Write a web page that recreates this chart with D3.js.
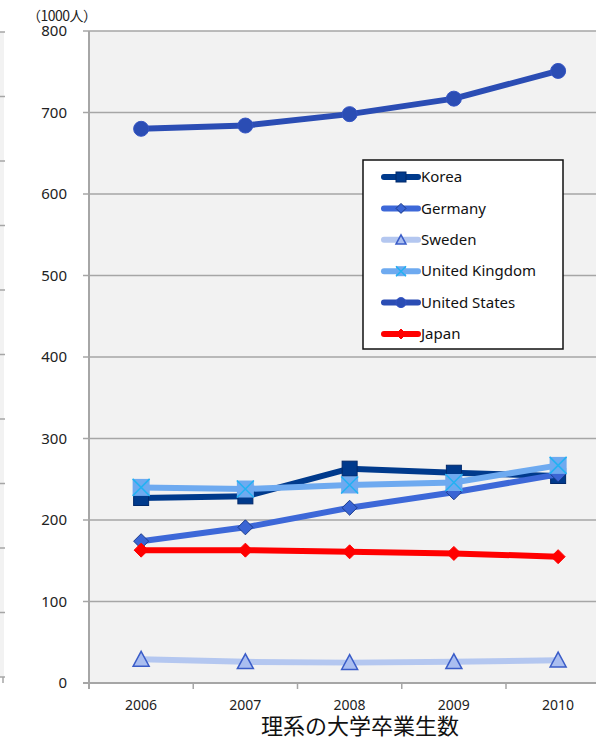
<!DOCTYPE html>
<html>
<head>
<meta charset="utf-8">
<script src="https://cdn.jsdelivr.net/npm/d3@7"></script>
<style>
  body { margin: 0; background: #fff; }
  svg { display: block; font-family: "Noto Sans", "Open Sans", sans-serif; }
</style>
</head>
<body>
<svg width="596" height="739"></svg>
<script>
var years = ["2006", "2007", "2008", "2009", "2010"];
var yTicks = [0, 100, 200, 300, 400, 500, 600, 700, 800];
var korea = [227, 229, 263, 258, 254];
var germany = [174, 191, 215, 234, 256];
var sweden = [29, 26, 25, 26, 28];
var uk = [240, 238, 243, 246, 267];
var us = [680, 684, 698, 717, 751];
var japan = [163, 163, 161, 159, 155];

var series = [
  { name: "Korea", values: korea, line: "#003a8c", fill: "#003a8c", stroke: "#00286a", shape: "square" },
  { name: "Germany", values: germany, line: "#3d68d8", fill: "#3a65d4", stroke: "#1c3c8c", shape: "diamond" },
  { name: "Sweden", values: sweden, line: "#b4c7f0", fill: "#aabef0", stroke: "#3a5cc8", shape: "triangle" },
  { name: "United Kingdom", values: uk, line: "#6eaaf0", fill: "#6eaaf0", stroke: "#22b2f2", shape: "xsquare" },
  { name: "United States", values: us, line: "#2b4db4", fill: "#2b4db4", stroke: "#3454c4", shape: "circle" },
  { name: "Japan", values: japan, line: "#ff0000", fill: "#ff0000", stroke: "#ff0000", shape: "diamond" }
];

var svg = d3.select("svg"),
  width = +svg.attr("width"),
  height = +svg.attr("height");

var plotLeft = 89, plotTop = 31, plotBottom = 683;

var x = d3.scaleBand().domain(years).range([plotLeft, plotLeft + 5 * 104.25]).paddingInner(0).paddingOuter(0);
var y = d3.scaleLinear().domain([0, 800]).range([plotBottom, plotTop]);

// leftover strip of a neighbouring chart at the very left edge
var yStrip = d3.scaleLinear().domain([0, 10]).range([677, 32]);
svg.append("rect").attr("x", 0).attr("y", 32).attr("width", 4).attr("height", 645).attr("fill", "#f2f2f2");
svg.append("g").selectAll("line").data(d3.range(11)).enter().append("line")
  .attr("x1", 0).attr("x2", 5)
  .attr("y1", function (d) { return yStrip(d); })
  .attr("y2", function (d) { return yStrip(d); })
  .attr("stroke", "#a6a6a6").attr("stroke-width", 1.5);
svg.append("line").attr("x1", 3).attr("x2", 3).attr("y1", 677).attr("y2", 683)
  .attr("stroke", "#a6a6a6").attr("stroke-width", 1.5);

// plot area
svg.append("rect")
  .attr("x", plotLeft).attr("y", plotTop)
  .attr("width", width - plotLeft).attr("height", plotBottom - plotTop)
  .attr("fill", "#f2f2f2");

svg.append("g").selectAll("line").data(yTicks.slice(1)).enter().append("line")
  .attr("x1", plotLeft - 6).attr("x2", width)
  .attr("y1", function (d) { return y(d); })
  .attr("y2", function (d) { return y(d); })
  .attr("stroke", "#a6a6a6").attr("stroke-width", 1.5);

svg.append("g").selectAll("text").data(yTicks).enter().append("text")
  .attr("x", 67).attr("y", function (d) { return y(d); })
  .attr("dy", "0.35em").attr("text-anchor", "end")
  .attr("font-size", 15).attr("fill", "#222")
  .text(function (d) { return d; });

// axes lines
svg.append("line").attr("x1", plotLeft).attr("x2", plotLeft).attr("y1", plotTop).attr("y2", plotBottom + 6)
  .attr("stroke", "#a6a6a6").attr("stroke-width", 2);
svg.append("line").attr("x1", plotLeft - 6).attr("x2", width).attr("y1", plotBottom).attr("y2", plotBottom)
  .attr("stroke", "#a6a6a6").attr("stroke-width", 2);
svg.append("g").selectAll("line").data(years.slice(1)).enter().append("line")
  .attr("x1", function (d) { return x(d); })
  .attr("x2", function (d) { return x(d); })
  .attr("y1", plotBottom).attr("y2", plotBottom + 6)
  .attr("stroke", "#a6a6a6").attr("stroke-width", 1.5);

svg.append("g").selectAll("text").data(years).enter().append("text")
  .attr("x", function (d) { return x(d) + x.bandwidth() / 2; })
  .attr("y", 710).attr("text-anchor", "middle")
  .attr("font-size", 14).attr("fill", "#222")
  .text(function (d) { return d; });

svg.append("text").attr("x", 360).attr("y", 734).attr("text-anchor", "middle")
  .attr("font-family", "'Noto Sans CJK JP', sans-serif").attr("font-size", 22).attr("fill", "#111")
  .text("理系の大学卒業生数");

svg.append("text").attr("x", 27).attr("y", 21)
  .attr("font-family", "'Noto Sans CJK JP', sans-serif").attr("font-size", 14).attr("fill", "#222")
  .attr("textLength", 70).attr("lengthAdjust", "spacing")
  .text("（1000人）");

function drawMarker(g, s, cx, cy, size) {
  var h = size / 2;
  if (s.shape === "square") {
    g.append("rect").attr("x", cx - h).attr("y", cy - h).attr("width", size).attr("height", size)
      .attr("fill", s.fill).attr("stroke", s.stroke).attr("stroke-width", 1);
  } else if (s.shape === "diamond") {
    g.append("path").attr("d", "M" + cx + "," + (cy - h) + "L" + (cx + h) + "," + cy + "L" + cx + "," + (cy + h) + "L" + (cx - h) + "," + cy + "Z")
      .attr("fill", s.fill).attr("stroke", s.stroke).attr("stroke-width", 1);
  } else if (s.shape === "triangle") {
    g.append("path").attr("d", "M" + cx + "," + (cy - h) + "L" + (cx + h) + "," + (cy + h * 0.85) + "L" + (cx - h) + "," + (cy + h * 0.85) + "Z")
      .attr("fill", s.fill).attr("stroke", s.stroke).attr("stroke-width", 1.5);
  } else if (s.shape === "xsquare") {
    g.append("rect").attr("x", cx - h).attr("y", cy - h).attr("width", size).attr("height", size)
      .attr("fill", s.fill);
    g.append("path").attr("d", "M" + (cx - h) + "," + (cy - h) + "L" + (cx + h) + "," + (cy + h) + "M" + (cx + h) + "," + (cy - h) + "L" + (cx - h) + "," + (cy + h))
      .attr("stroke", s.stroke).attr("stroke-width", 1.5).attr("fill", "none");
  } else if (s.shape === "circle") {
    g.append("circle").attr("cx", cx).attr("cy", cy).attr("r", h)
      .attr("fill", s.fill).attr("stroke", s.stroke).attr("stroke-width", 1);
  }
}

var line = d3.line()
  .x(function (d, i) { return x(years[i]) + x.bandwidth() / 2; })
  .y(function (d) { return y(d); });

var sizes = { square: 15, diamond: 15, triangle: 16, xsquare: 17, circle: 15 };

series.forEach(function (s) {
  var g = svg.append("g");
  g.append("path").datum(s.values).attr("d", line)
    .attr("fill", "none").attr("stroke", s.line).attr("stroke-width", 6)
    .attr("stroke-linejoin", "round");
  s.values.forEach(function (v, i) {
    drawMarker(g, s, x(years[i]) + x.bandwidth() / 2, y(v), s.name === "Japan" ? 14 : sizes[s.shape]);
  });
});

// legend
var lg = svg.append("g");
lg.append("rect").attr("x", 363).attr("y", 160).attr("width", 200).attr("height", 189)
  .attr("fill", "#fff").attr("stroke", "#111").attr("stroke-width", 1.5);
series.forEach(function (s, i) {
  var ly = 177 + i * 31.4;
  lg.append("line").attr("x1", 384).attr("x2", 418).attr("y1", ly).attr("y2", ly)
    .attr("stroke", s.line).attr("stroke-width", 6).attr("stroke-linecap", "round");
  drawMarker(lg, s, 401, ly, 10);
  lg.append("text").attr("x", 421).attr("y", ly).attr("dy", "0.35em")
    .attr("font-size", 15).attr("fill", "#111").text(s.name);
});
</script>
</body>
</html>
